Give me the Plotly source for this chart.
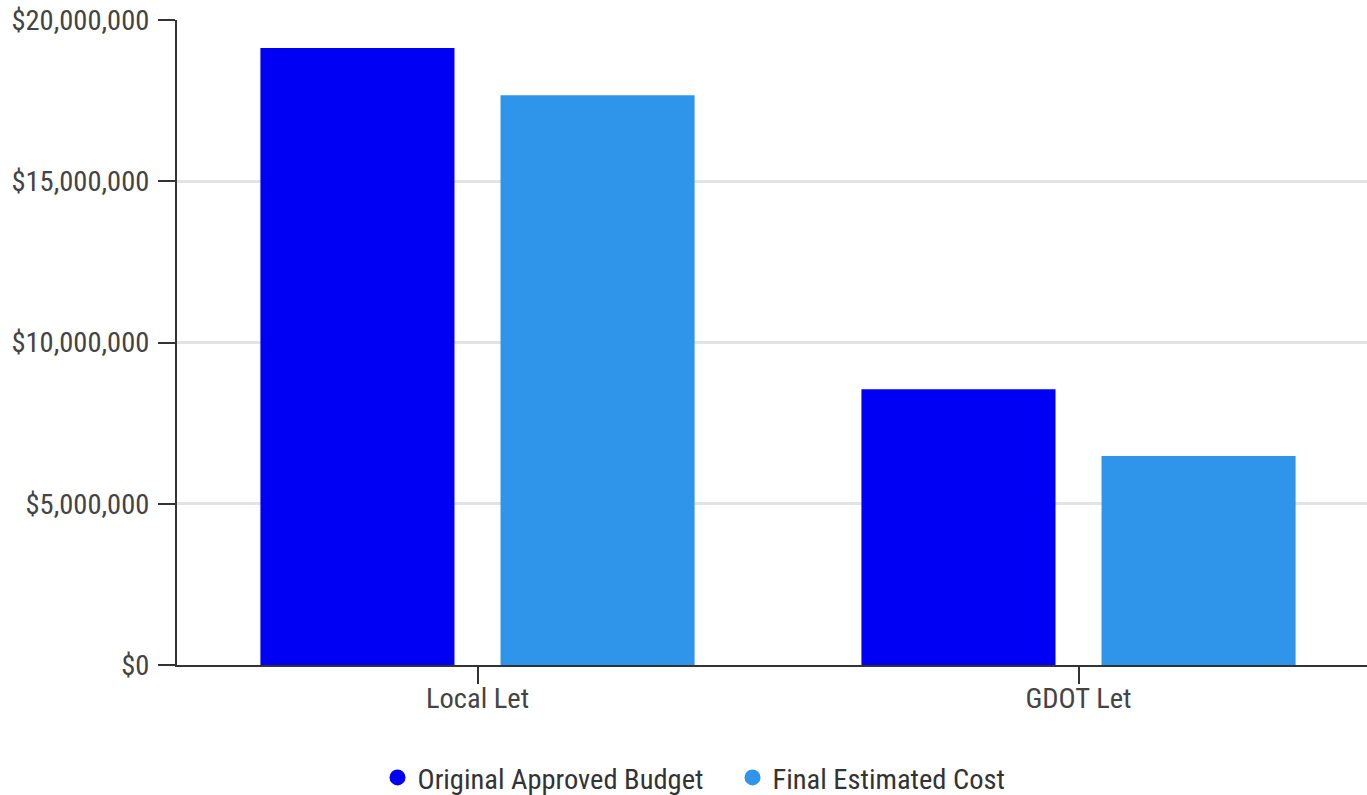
import plotly.graph_objects as go

categories = ["Local Let", "GDOT Let"]
series_names = ["Original Approved Budget", "Final Estimated Cost"]
original_budget = [19130000, 8550000]
final_cost = [17670000, 6480000]
colors = ["#0000F5", "#2F95EA"]
y_ticks = [0, 5000000, 10000000, 15000000, 20000000]
y_tick_labels = ["$0", "$5,000,000", "$10,000,000", "$15,000,000", "$20,000,000"]

FONT = "Liberation Sans Narrow, Roboto Condensed, Roboto, sans-serif"

fig = go.Figure()
for name, vals, col in zip(series_names, [original_budget, final_cost], colors):
    fig.add_trace(go.Bar(x=categories, y=vals, name=name, marker=dict(color=col, line=dict(width=0)),
                         showlegend=False))
for name, col in zip(series_names, colors):
    fig.add_trace(go.Scatter(x=[None], y=[None], mode="markers", name=name,
                             marker=dict(color=col, size=21, symbol="circle")))

fig.update_layout(
    width=1367, height=795,
    margin=dict(l=177, r=0, t=20, b=130, autoexpand=False),
    paper_bgcolor="white", plot_bgcolor="white",
    barmode="group", bargap=0.201, bargroupgap=0.1917,
    font=dict(family=FONT, size=28.5, color="#444444"),
    legend=dict(orientation="h", x=0.1685, xanchor="left", y=-0.175, yanchor="middle",
                font=dict(size=28.5, color="#333333"), itemwidth=30, tracegroupgap=0,
                entrywidth=310, entrywidthmode="pixels"),
    xaxis=dict(range=[-0.5, 1.48], showline=True, linecolor="#333333", linewidth=2,
               ticks="outside", ticklen=17, tickwidth=2, tickcolor="#333333",
               ticklabelstandoff=-10,
               showgrid=False, zeroline=False, tickfont=dict(size=28.5, color="#444444")),
    yaxis=dict(range=[0, 20000000], tickvals=y_ticks, ticktext=y_tick_labels,
               showline=True, linecolor="#333333", linewidth=2,
               ticks="outside", ticklen=17, tickwidth=2, tickcolor="#333333",
               ticklabelstandoff=3,
               showgrid=True, gridcolor="#E3E3E3", gridwidth=3, zeroline=False,
               tickfont=dict(size=28.5, color="#444444")),
)

fig.write_html("out.html", config={"displayModeBar": False},
               post_script="document.body.style.margin='0';document.body.style.overflow='hidden';")
